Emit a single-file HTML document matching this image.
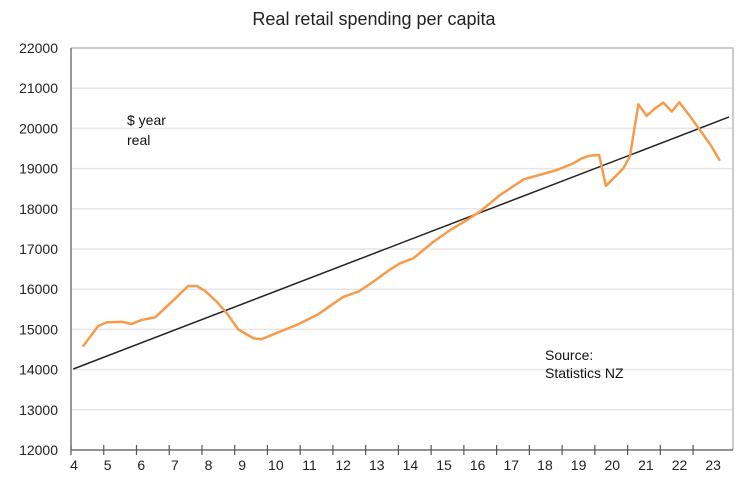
<!DOCTYPE html>
<html><head><meta charset="utf-8"><style>
body{margin:0;background:#fff;}
svg{display:block;font-family:"Liberation Sans",sans-serif;}
</style></head><body>
<svg id="chart" width="741" height="489" viewBox="0 0 741 489">
<text x="374" y="25" text-anchor="middle" font-size="18" fill="#222">Real retail spending per capita</text>
<g id="grid"></g><g id="axes"></g><g id="series"></g>
<text x="127" y="125" font-size="14" fill="#111">$ year</text>
<text x="127" y="145" font-size="14" fill="#111">real</text>
<text x="545" y="360" font-size="14" fill="#111">Source:</text>
<text x="545" y="378" font-size="14" fill="#111">Statistics NZ</text>
</svg>
<script>
const yTicks=[12000,13000,14000,15000,16000,17000,18000,19000,20000,21000,22000];
const xTicks=[4,5,6,7,8,9,10,11,12,13,14,15,16,17,18,19,20,21,22,23];
const times=[4.36,4.83,5.09,5.55,5.85,6.16,6.57,6.92,7.58,7.84,8.09,8.45,8.76,9.11,9.57,9.82,10.38,10.89,11.55,11.91,12.32,12.78,13.23,13.69,14.05,14.46,15.07,15.58,16.09,16.49,17.10,17.82,18.84,19.34,19.60,19.85,20.13,20.34,20.67,20.87,21.07,21.33,21.58,21.84,22.09,22.35,22.58,22.91,23.21,23.57,23.82];
const spending=[14570,15085,15175,15190,15135,15235,15300,15565,16080,16080,15960,15690,15400,15000,14780,14755,14945,15110,15375,15580,15810,15940,16185,16460,16645,16770,17180,17470,17720,17930,18340,18730,18965,19130,19255,19320,19340,18570,18840,19005,19300,20600,20310,20500,20640,20420,20650,20300,19960,19545,19195];
const trendTimes=[4.07,24.1];
const trendValues=[14015,20284];
const NS="http://www.w3.org/2000/svg";
const L=71,R=733,T=48,B=450;
const xs=t=>L+(t-4)*32.74;
const ys=v=>B-(v-12000)*(B-T)/10000;
function mk(tag,attrs,parent){const e=document.createElementNS(NS,tag);for(const k in attrs)e.setAttribute(k,attrs[k]);document.getElementById(parent).appendChild(e);return e;}
yTicks.forEach((v,i)=>{
  if(i>0&&i<yTicks.length-1){const g=mk('line',{x1:L,x2:R,y1:ys(v),y2:ys(v),stroke:'#e6e6e6','stroke-width':1.5},'grid');
  
  }
  const t=mk('text',{x:58,y:ys(v)+5,'text-anchor':'end','font-size':14,fill:'#222'},'axes');t.textContent=v;
  
  
});
const fr=mk('path',{d:`M${L},${T}H${R}V${B}`,fill:'none',stroke:'#bbb','stroke-width':1.5},'axes');


const ya=mk('line',{x1:L,x2:L,y1:T,y2:B,stroke:'#555','stroke-width':1.2},'axes');


const xa=mk('line',{x1:L,x2:R,y1:B,y2:B,stroke:'#555','stroke-width':1.2},'axes');


xTicks.forEach((v,i)=>{
  const tk=mk('line',{x1:xs(v),x2:xs(v),y1:B-5,y2:B+5,stroke:'#555','stroke-width':1.2},'axes');
  
  
  const t=mk('text',{x:xs(v)+3+i*0.9,y:B+20,'text-anchor':'middle','font-size':14,fill:'#222'},'axes');t.textContent=v;
  
  
});
const tr=mk('line',{x1:xs(trendTimes[0]),y1:ys(trendValues[0]),x2:xs(trendTimes[1]),y2:ys(trendValues[1]),stroke:'#222','stroke-width':1.5},'series');


const ln=mk('polyline',{points:times.map((t,i)=>xs(t)+','+ys(spending[i])).join(' '),fill:'none',stroke:'#f79a4a','stroke-width':2.5,'stroke-linejoin':'round'},'series');


</script>
</body></html>
